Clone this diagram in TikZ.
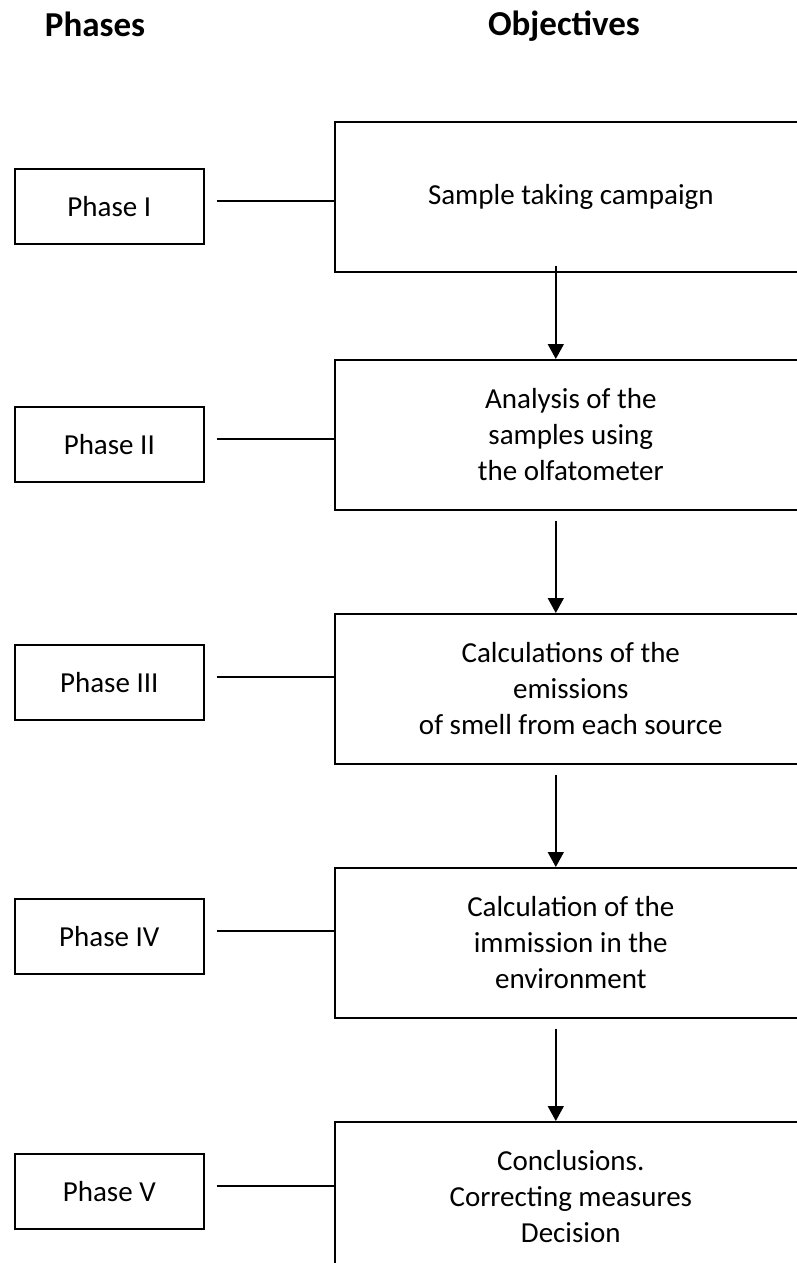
\documentclass[tikz,border=0pt]{standalone}
\usepackage{fontspec}
\setmainfont{Carlito}
\usetikzlibrary{arrows.meta}
\begin{document}
\begin{tikzpicture}[x=1pt,y=-1pt,line width=1.6pt,
  phasebox/.style={draw,anchor=north west,minimum width=189pt,minimum height=75pt,inner sep=0pt,font=\fontsize{29}{36}\selectfont},
  objbox/.style={draw,anchor=north west,minimum width=472pt,minimum height=150pt,inner sep=0pt,align=center,font=\fontsize{29}{36}\selectfont},
  hdr/.style={anchor=base,inner sep=0pt,font=\fontsize{35}{42}\selectfont\bfseries},
  arr/.style={-{Triangle[length=15pt,width=16pt]}},
  link/.style={}]
\clip (0,0) rectangle (797,1263);
\fill[white] (0,0) rectangle (797,1263);
\node[hdr] (hp) at (95,37) {Phases};
\node[hdr] (ho) at (564,36) {Objectives};
\node[phasebox] (p1) at (14,168) {Phase I};
\node[phasebox] (p2) at (14,406) {Phase II};
\node[phasebox] (p3) at (14,644) {Phase III};
\node[phasebox] (p4) at (14,898) {Phase IV};
\node[phasebox] (p5) at (14,1153) {Phase V};
\node[objbox] (o1) at (334,121) {Sample taking campaign};
\node[objbox] (o2) at (334,359) {Analysis of the\\samples using\\the olfatometer};
\node[objbox] (o3) at (334,613) {Calculations of the\\emissions\\of smell from each source};
\node[objbox] (o4) at (334,867) {Calculation of the\\immission in the\\environment};
\node[objbox] (o5) at (334,1121) {Conclusions.\\Correcting measures\\Decision};
\foreach \i in {1,...,5}{
  \draw[link] ([xshift=12pt,yshift=5.5pt]p\i.east) -- ([yshift=5.5pt]p\i.east -| o\i.west);
}
\draw[arr] ([xshift=-15pt,yshift=7pt]o1.south) -- ([xshift=-15pt]o2.north);
\draw[arr] ([xshift=-15pt,yshift=-10pt]o2.south) -- ([xshift=-15pt]o3.north);
\draw[arr] ([xshift=-15pt,yshift=-10pt]o3.south) -- ([xshift=-15pt]o4.north);
\draw[arr] ([xshift=-15pt,yshift=-10pt]o4.south) -- ([xshift=-15pt]o5.north);
\end{tikzpicture}
\end{document}
